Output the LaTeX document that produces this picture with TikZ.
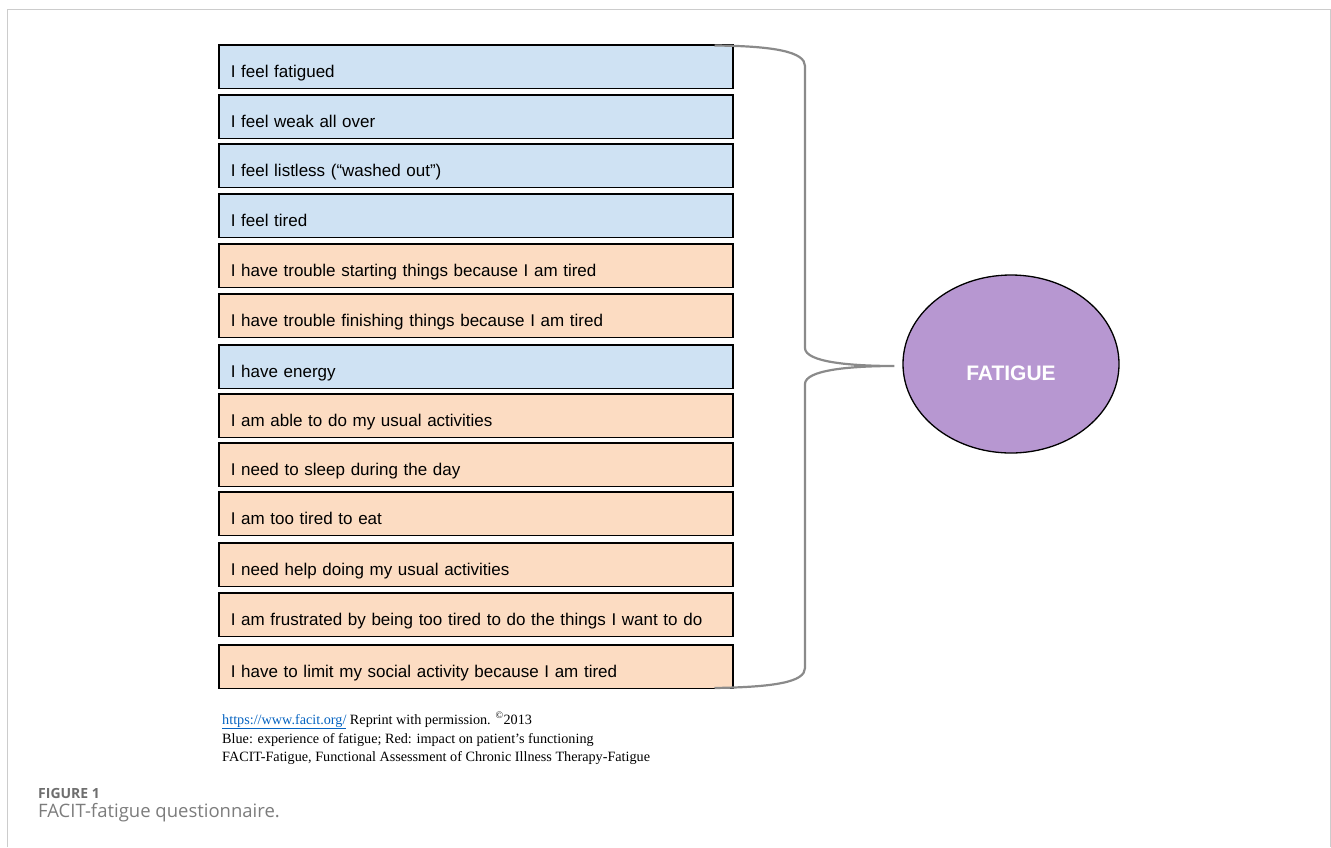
\documentclass[tikz,border=0pt]{standalone}
\usepackage{fontspec}
\setmainfont{Liberation Sans}
\newfontfamily\notefont{Liberation Serif}
\newfontfamily\capfont{Open Sans}
\usetikzlibrary{shapes.geometric,calc}

\definecolor{qblue}{HTML}{CFE2F3}
\definecolor{qorange}{HTML}{FCDCC2}
\definecolor{qpurple}{HTML}{B797D1}
\definecolor{bracegray}{HTML}{8A8A8A}
\definecolor{framegray}{HTML}{CCCCCC}
\definecolor{linkblue}{HTML}{0563C1}
\definecolor{capgray}{HTML}{6E6E6E}

\begin{document}
\begin{tikzpicture}[x=1pt,y=-1pt,
  item/.style={draw=black, line width=1.5pt, anchor=north west,
    minimum width=514pt, minimum height=43.5pt, text width=490pt,
    align=left, inner xsep=12pt, inner ysep=0pt,
    text height=21pt, text depth=0pt, font=\fontsize{17}{20}\selectfont},
  exp/.style={item, fill=qblue},
  imp/.style={item, fill=qorange},
  bracepath/.style={draw=bracegray, line width=2.2pt},
  note/.style={anchor=base west, inner sep=0pt, font=\notefont\fontsize{14.2}{16}\selectfont},
]
\useasboundingbox (0,0) rectangle (1331,847);
\draw[framegray, line width=1pt] (7.5,847) -- (7.5,9) -- (1330,9) -- (1330,847);

\node[exp] (r1) at (218,44) {I feel fatigued};
\node[exp] (r2) at (218,94) {I feel weak all over};
\node[exp] (r3) at (218,143) {I feel listless (“washed out”)};
\node[exp] (r4) at (218,193) {I feel tired};
\node[imp] (r5) at (218,243) {I have trouble starting things because I am tired};
\node[imp] (r6) at (218,293) {I have trouble finishing things because I am tired};
\node[exp] (r7) at (218,344) {I have energy};
\node[imp] (r8) at (218,393) {I am able to do my usual activities};
\node[imp] (r9) at (218,442) {I need to sleep during the day};
\node[imp] (r10) at (218,491) {I am too tired to eat};
\node[imp] (r11) at (218,542) {I need help doing my usual activities};
\node[imp] (r12) at (218,592) {I am frustrated by being too tired to do the things I want to do};
\node[imp] (r13) at (218,644) {I have to limit my social activity because I am tired};

\node[ellipse, draw=black, line width=1.3pt, fill=qpurple,
  minimum width=216pt, minimum height=178pt, text=white,
  font=\bfseries\fontsize{21}{24}\selectfont, text height=32pt, text depth=0pt]
  (fatigue) at (1011,364) {FATIGUE};

\coordinate (bs) at ($(r1.north east)+(-19,1.5)$);
\coordinate (be) at ($(r13.south east)+(-19,-1)$);
\coordinate (tip) at ($(fatigue.west)+(-8,2)$);
\draw[bracepath] (bs) .. controls (775,46) and (805,52) .. (805,66)
  -- (805,348) .. controls (805,362) and (850,366) .. (tip)
  .. controls (850,366) and (805,370) .. (805,384)
  -- (805,668) .. controls (805,682) and (775,687) .. (be);

\node[note] (n1) at (222,724) {\textcolor{linkblue}{\underline{https://www.facit.org/}} Reprint with permission. \textsuperscript{©}2013};
\node[note] (n2) at (222,743) {Blue: experience of fatigue; Red: impact on patient’s functioning};
\node[note] (n3) at (222,761) {FACIT-Fatigue, Functional Assessment of Chronic Illness Therapy-Fatigue};

\node[anchor=base west, inner sep=0pt, text=capgray, font=\capfont\bfseries\fontsize{14}{16}\selectfont] (fig) at (38,798) {FIGURE 1};
\node[anchor=base west, inner sep=0pt, text=capgray!90, font=\capfont\fontsize{18.5}{21}\selectfont] (cap) at (38,817) {FACIT-fatigue questionnaire.};
\end{tikzpicture}
\end{document}
